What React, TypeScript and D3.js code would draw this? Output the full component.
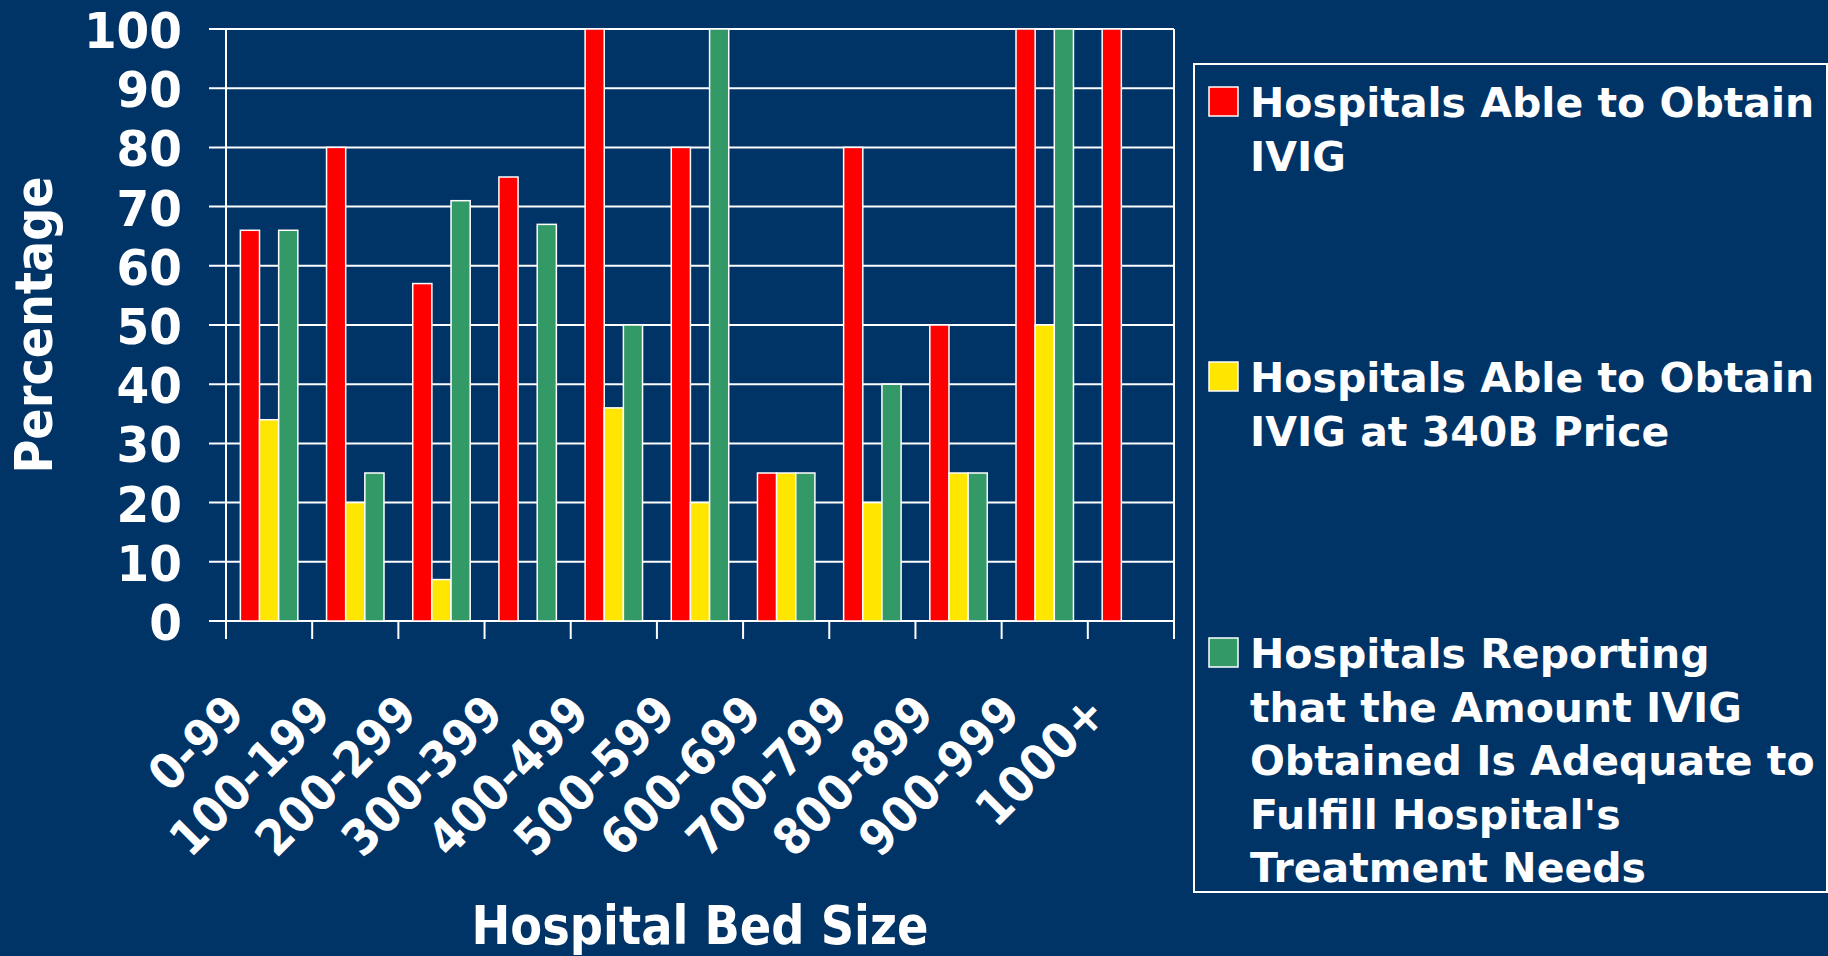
import React, { useEffect, useRef } from "react";
import * as d3 from "d3";

// categories (hospital bed size)
const categories = [
  "0-99", "100-199", "200-299", "300-399", "400-499", "500-599",
  "600-699", "700-799", "800-899", "900-999", "1000+",
];

// series values (percent)
const obtainIvig = [66, 80, 57, 75, 100, 80, 25, 80, 50, 100, 100];
const obtain340b = [34, 20, 7, 0, 36, 20, 25, 20, 25, 50, 0];
const adequateAmount = [66, 25, 71, 67, 50, 100, 25, 40, 25, 100, 0];

const seriesNames = ["obtain", "price", "adequate"];
const seriesColors = ["#ff0000", "#ffe600", "#339966"];
const legendLines = [
  ["Hospitals Able to Obtain", "IVIG"],
  ["Hospitals Able to Obtain", "IVIG at 340B Price"],
  [
    "Hospitals Reporting",
    "that the Amount IVIG",
    "Obtained Is Adequate to",
    "Fulfill Hospital's",
    "Treatment Needs",
  ],
];
const yTicks = [0, 10, 20, 30, 40, 50, 60, 70, 80, 90, 100];

const BG = "#003366";
const FONT = "'DejaVu Sans', Verdana, sans-serif";

// squeeze text a bit so the wide DejaVu glyphs look like the narrower original
const squeeze = (sel, ratio) => {
  sel.each(function () {
    const len = this.getComputedTextLength();
    d3.select(this)
      .attr("textLength", len * ratio)
      .attr("lengthAdjust", "spacingAndGlyphs");
  });
};

const App = () => {
  const ref = useRef(null);

  useEffect(() => {
    document.body.style.margin = "0";
    const svg = d3.select(ref.current);
    svg.selectAll("*").remove();

    const width = 1828;
    const height = 956;
    const left = 226;
    const right = 1174;
    const top = 29;
    const bottom = 621;

    svg.append("rect").attr("width", width).attr("height", height).attr("fill", BG);

    const x0 = d3
      .scaleBand()
      .domain(categories)
      .range([left, right])
      .paddingInner(1 / 3)
      .paddingOuter(1 / 6);
    const x1 = d3.scaleBand().domain(seriesNames).range([0, x0.bandwidth()]);
    const y = d3.scaleLinear().domain([0, 100]).range([bottom, top]);
    const step = x0.step();

    // gridlines with their left tick
    svg
      .append("g")
      .selectAll("line")
      .data(yTicks)
      .enter()
      .append("line")
      .attr("x1", left - 17)
      .attr("x2", right)
      .attr("y1", (d) => y(d))
      .attr("y2", (d) => y(d))
      .attr("stroke", "#fff")
      .attr("stroke-width", 2);

    // category boundary ticks
    const bounds = d3.range(categories.length + 1).map((i) => left + i * step);
    svg
      .append("g")
      .selectAll("line")
      .data(bounds)
      .enter()
      .append("line")
      .attr("x1", (d) => d)
      .attr("x2", (d) => d)
      .attr("y1", (d, i) => (i === 0 || i === categories.length ? top : bottom))
      .attr("y2", bottom + 18)
      .attr("stroke", "#fff")
      .attr("stroke-width", 2);

    // bars
    const rows = categories.map((c, i) => ({
      cat: c,
      vals: [obtainIvig[i], obtain340b[i], adequateAmount[i]],
    }));
    svg
      .append("g")
      .selectAll("g")
      .data(rows)
      .enter()
      .append("g")
      .attr("transform", (d) => `translate(${x0(d.cat)},0)`)
      .selectAll("rect")
      .data((d) =>
        d.vals.map((v, k) => ({ key: seriesNames[k], v, color: seriesColors[k] }))
          .filter((e) => e.v > 0)
      )
      .enter()
      .append("rect")
      .attr("x", (d) => x1(d.key))
      .attr("width", x1.bandwidth())
      .attr("y", (d) => y(d.v))
      .attr("height", (d) => bottom - y(d.v))
      .attr("fill", (d) => d.color)
      .attr("stroke", "#fff")
      .attr("stroke-width", 1.5);

    // y tick labels
    svg
      .append("g")
      .selectAll("text")
      .data(yTicks)
      .enter()
      .append("text")
      .attr("x", 182)
      .attr("y", (d) => y(d) + 19)
      .attr("text-anchor", "end")
      .attr("fill", "#fff")
      .attr("font-family", FONT)
      .attr("font-weight", "bold")
      .attr("font-size", 50)
      .text((d) => d)
      .call(squeeze, 0.94);

    // category labels
    svg
      .append("g")
      .selectAll("text")
      .data(categories)
      .enter()
      .append("text")
      .attr(
        "transform",
        (d) => `translate(${x0(d) + x0.bandwidth() / 2 - 22},716) rotate(-45)`
      )
      .attr("text-anchor", "end")
      .attr("fill", "#fff")
      .attr("font-family", FONT)
      .attr("font-weight", "bold")
      .attr("font-size", 49)
      .text((d) => d)
      .call(squeeze, 0.9);

    // axis titles
    svg
      .append("text")
      .attr("transform", `translate(52,${(top + bottom) / 2}) rotate(-90)`)
      .attr("text-anchor", "middle")
      .attr("fill", "#fff")
      .attr("font-family", FONT)
      .attr("font-weight", "bold")
      .attr("font-size", 52)
      .attr("textLength", 297)
      .attr("lengthAdjust", "spacingAndGlyphs")
      .text("Percentage");

    svg
      .append("text")
      .attr("x", (left + right) / 2)
      .attr("y", 944)
      .attr("text-anchor", "middle")
      .attr("fill", "#fff")
      .attr("font-family", FONT)
      .attr("font-weight", "bold")
      .attr("font-size", 54)
      .attr("textLength", 457)
      .attr("lengthAdjust", "spacingAndGlyphs")
      .text("Hospital Bed Size");

    // legend
    const legend = svg.append("g");
    legend
      .append("rect")
      .attr("x", 1194)
      .attr("y", 64)
      .attr("width", 633)
      .attr("height", 828)
      .attr("fill", "none")
      .attr("stroke", "#fff")
      .attr("stroke-width", 2);

    const entryBase = [117, 392, 668];
    const lineGap = 53.5;
    legendLines.forEach((lines, k) => {
      const g = legend.append("g");
      g.append("rect")
        .attr("x", 1209)
        .attr("y", entryBase[k] - 30)
        .attr("width", 29)
        .attr("height", 29)
        .attr("fill", seriesColors[k])
        .attr("stroke", "#fff")
        .attr("stroke-width", 1.5);
      g.selectAll("text")
        .data(lines)
        .enter()
        .append("text")
        .attr("x", 1250)
        .attr("y", (d, i) => entryBase[k] + i * lineGap)
        .attr("fill", "#fff")
        .attr("font-family", FONT)
        .attr("font-weight", "bold")
        .attr("font-size", 41)
        .text((d) => d);
    });
  }, []);

  return (
    <svg
      ref={ref}
      width={1828}
      height={956}
      style={{ position: "absolute", left: 0, top: 0, display: "block" }}
    />
  );
};

export default App;
